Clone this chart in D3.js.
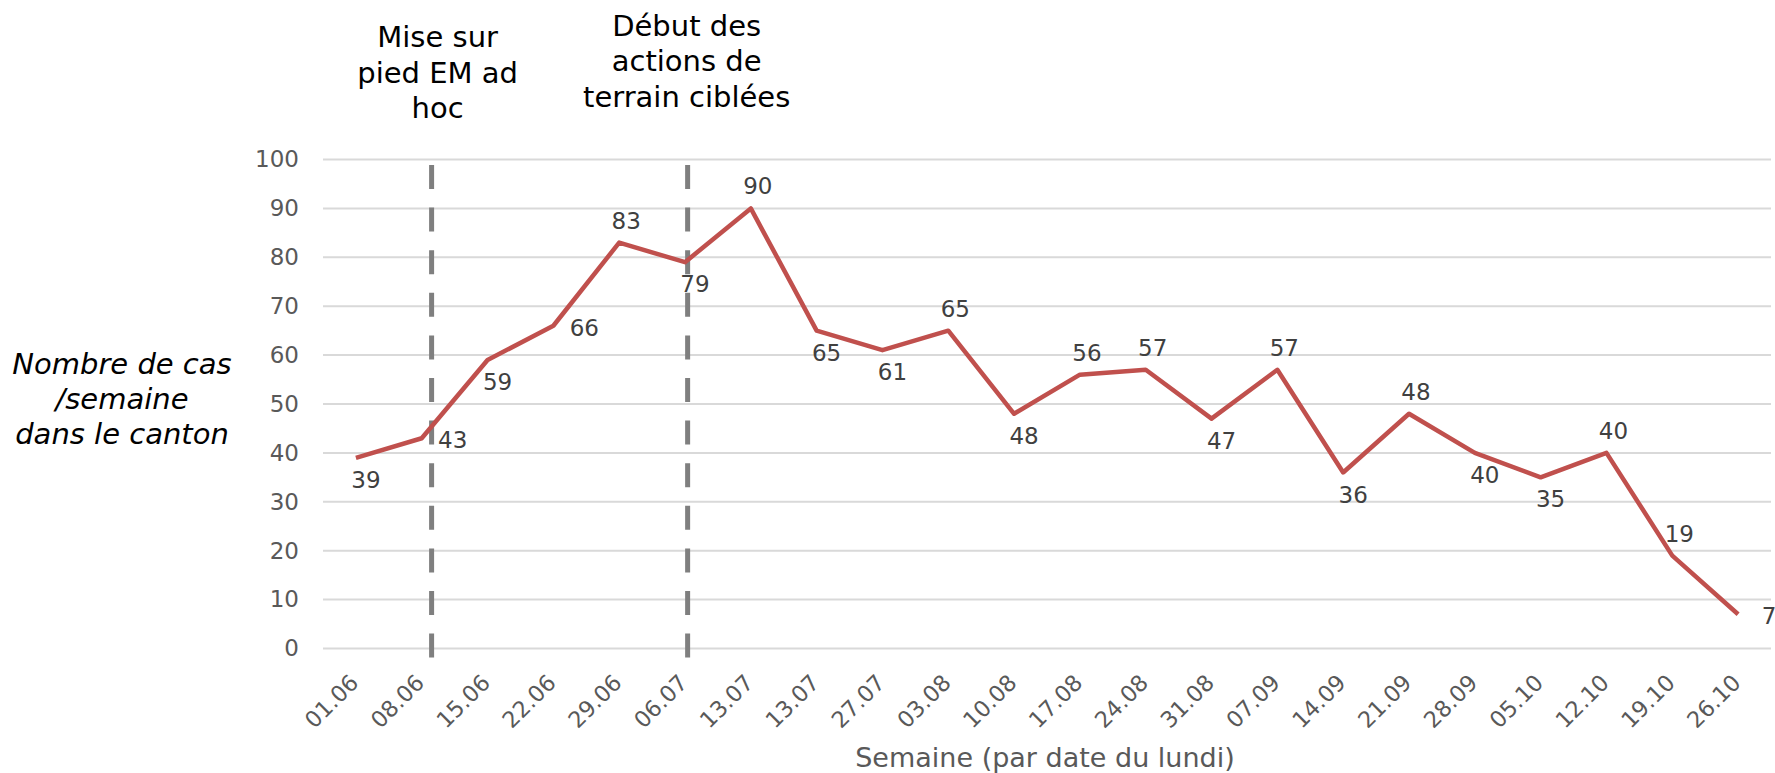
<!DOCTYPE html>
<html>
<head>
<meta charset="utf-8">
<script src="https://cdn.jsdelivr.net/npm/d3@7"></script>
<style>
  body { margin: 0; background: #fff; }
  text { font-family: "DejaVu Sans", Verdana, sans-serif; }
</style>
</head>
<body>
<div id="graph"></div>
<script>
// weeks (date of the monday) - the second "13.07" is as in the source
var weeks = ["01.06", "08.06", "15.06", "22.06", "29.06", "06.07", "13.07", "13.07",
             "27.07", "03.08", "10.08", "17.08", "24.08", "31.08", "07.09", "14.09",
             "21.09", "28.09", "05.10", "12.10", "19.10", "26.10"];
var cases = [39, 43, 59, 66, 83, 79, 90, 65, 61, 65, 48, 56, 57, 47, 57, 36, 48, 40, 35, 40, 19, 7];
// where each value label sits: a = above, b = below, r = right
var labelPos = ["b", "r", "b", "r", "a", "b", "a", "b", "b", "a", "b", "a", "a", "b", "a", "b",
                "a", "b", "b", "a", "a", "r"];
var yTicks = [0, 10, 20, 30, 40, 50, 60, 70, 80, 90, 100];
var markers = [
  {week: 1, lines: ["Mise sur", "pied EM ad", "hoc"]},
  {week: 5, lines: ["Début des", "actions de", "terrain ciblées"]}
];
var yTitle = ["Nombre de cas", "/semaine", "dans le canton"];
var xTitle = "Semaine (par date du lundi)";

var W = 1775, H = 773;
var svg = d3.select("#graph").append("svg")
    .attr("width", W)
    .attr("height", H);

var x = d3.scalePoint().domain(d3.range(weeks.length)).range([323, 1771]).padding(0.5),
    y = d3.scaleLinear().domain([0, 100]).range([648.5, 159.5]);

// gridlines
svg.append("g").selectAll("line")
    .data(yTicks)
    .enter().append("line")
    .attr("x1", 323).attr("x2", 1771)
    .attr("y1", function(d) { return y(d); })
    .attr("y2", function(d) { return y(d); })
    .attr("stroke", "#d9d9d9")
    .attr("stroke-width", 2);

// y axis labels
var yAxis = svg.append("g")
    .attr("transform", "translate(323,0)")
    .call(d3.axisLeft(y).tickValues(yTicks).tickSize(0).tickPadding(24));
yAxis.select(".domain").remove();
yAxis.selectAll("text")
    .style("font-family", "DejaVu Sans, sans-serif")
    .style("font-size", "23px")
    .attr("fill", "#595959");

// x axis labels, rotated
svg.append("g").selectAll("text")
    .data(weeks)
    .enter().append("text")
    .attr("transform", function(d, i) { return "translate(" + (x(i) + 4) + ",684) rotate(-45)"; })
    .attr("text-anchor", "end")
    .style("font-size", "22.5px")
    .attr("fill", "#595959")
    .text(function(d) { return d; });

// dashed markers + notes
var step = x.step();
var marker = svg.append("g").selectAll(".marker")
    .data(markers)
    .enter().append("g")
    .attr("class", "marker")
    .attr("transform", function(d) { return "translate(" + (x(d.week) + (d.week == 1 ? 0.15 : 0.04) * step) + ",0)"; });

marker.append("line")
    .attr("y1", 165).attr("y2", 658)
    .attr("stroke", "#7f7f7f")
    .attr("stroke-width", 5)
    .attr("stroke-dasharray", "24,18.6");

marker.each(function(d, i) {
  var base = i == 0 ? 47 : 35.5;
  d3.select(this).selectAll("text")
      .data(d.lines)
      .enter().append("text")
      .attr("x", i == 0 ? 6 : -1)
      .attr("y", function(t, k) { return base + k * 35.5; })
      .attr("text-anchor", "middle")
      .style("font-size", "29px")
      .attr("fill", "#000")
      .text(function(t) { return t; });
});

// series line
var line = d3.line()
    .x(function(d, i) { return x(i); })
    .y(function(d) { return y(d); });

svg.append("path")
    .datum(cases)
    .attr("d", line)
    .attr("fill", "none")
    .attr("stroke", "#c0504d")
    .attr("stroke-width", 4.5)
    .attr("stroke-linejoin", "round");

// value labels
var off = {a: [7, -22], b: [10, 22], r: [31, 2]};
svg.append("g").selectAll("text")
    .data(cases)
    .enter().append("text")
    .attr("x", function(d, i) { return x(i) + off[labelPos[i]][0]; })
    .attr("y", function(d, i) { return y(d) + off[labelPos[i]][1]; })
    .attr("dy", "0.35em")
    .attr("text-anchor", "middle")
    .style("font-size", "23px")
    .attr("fill", "#404040")
    .text(function(d) { return d; });

// axis titles
svg.append("text")
    .attr("x", 1045).attr("y", 767)
    .attr("text-anchor", "middle")
    .style("font-size", "27px")
    .attr("fill", "#595959")
    .text(xTitle);

svg.append("g").selectAll("text")
    .data(yTitle)
    .enter().append("text")
    .attr("x", 122)
    .attr("y", function(d, i) { return 373.5 + i * 35; })
    .attr("text-anchor", "middle")
    .style("font-size", "29px")
    .style("font-style", "italic")
    .attr("fill", "#000")
    .text(function(d) { return d; });
</script>
</body>
</html>
